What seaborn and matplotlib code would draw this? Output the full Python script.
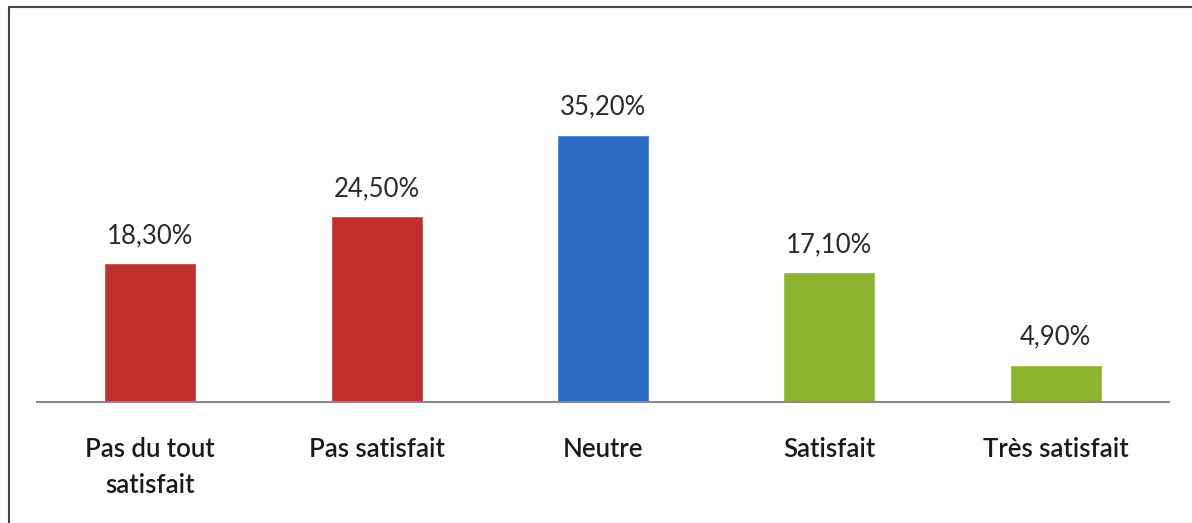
import matplotlib
matplotlib.use("Agg")
import matplotlib.pyplot as plt
from matplotlib.lines import Line2D
import seaborn as sns
import pandas as pd

categories = ["Pas du tout\nsatisfait", "Pas satisfait", "Neutre", "Satisfait", "Très satisfait"]
values = [18.3, 24.5, 35.2, 17.1, 4.9]
labels = ["18,30%", "24,50%", "35,20%", "17,10%", "4,90%"]
colors = ["#C1302F", "#C1302F", "#2B6CC4", "#8BB52F", "#8BB52F"]

sns.set_theme(style="white")
plt.rcParams["font.family"] = ["Lato", "DejaVu Sans"]

W, H = 1192, 523
fig = plt.figure(figsize=(W / 100, H / 100), dpi=100)
fig.patch.set_facecolor("white")
ax = fig.add_axes([37 / W, (H - 402) / H, 1132 / W, 372 / H])

df = pd.DataFrame({"cat": categories, "val": values})
sns.barplot(data=df, x="cat", y="val", hue="cat", palette=colors, legend=False,
            width=0.406, ax=ax, saturation=1)

ax.set_xlim(-0.5, 4.5)
ax.set_ylim(0, 372 / 7.585)
for s in ["top", "right", "left"]:
    ax.spines[s].set_visible(False)
ax.spines["bottom"].set_color("#8a8a8a")
ax.spines["bottom"].set_linewidth(1.5)
ax.set_yticks([])
ax.set_xlabel("")
ax.set_ylabel("")
ax.tick_params(axis="x", length=0, pad=25)
for t in ax.get_xticklabels():
    t.set_fontsize(18.5)
    t.set_color("#1a1a1a")
    t.set_fontweight("semibold")
    t.set_linespacing(1.55)
    t.set_verticalalignment("top")

for i, (v, lab) in enumerate(zip(values, labels)):
    ax.annotate(lab, (i, v), xytext=(0, 11), textcoords="offset points",
                ha="center", va="bottom", fontsize=18.5, color="#2a2a2a")

# outer frame (left and top edges)
fig.add_artist(Line2D([9 / W, 9 / W], [0, 1 - 7 / H], transform=fig.transFigure,
                      color="#444444", lw=1.5))
fig.add_artist(Line2D([9 / W, 1], [1 - 7 / H, 1 - 7 / H], transform=fig.transFigure,
                      color="#444444", lw=1.5))

fig.savefig("out.png", dpi=100)
